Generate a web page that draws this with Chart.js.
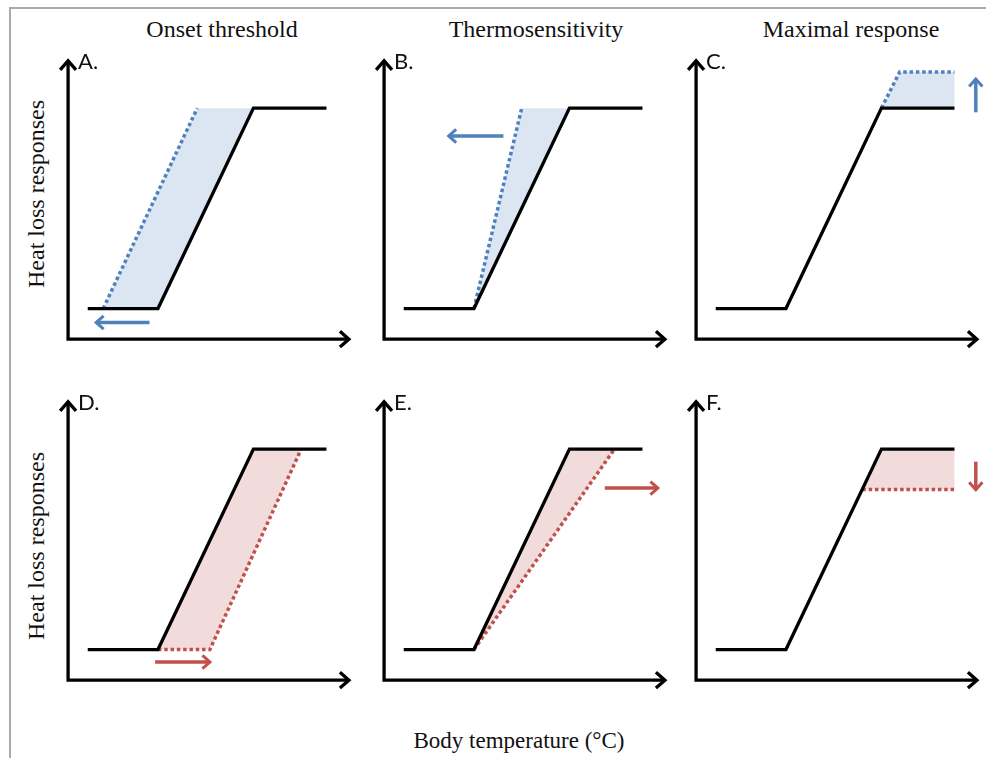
<!DOCTYPE html>
<html>
<head>
<meta charset="utf-8">
<script src="https://cdn.jsdelivr.net/npm/chart.js@4.4.1/dist/chart.umd.min.js"></script>
<style>
  body { margin: 0; background: #fff; width: 986px; height: 758px; position: relative; overflow: hidden; }
  #frame { position: absolute; left: 9px; top: 7px; right: -5px; bottom: -5px; border-top: 2px solid #aaa; border-left: 2px solid #aaa; }
  canvas { position: absolute; }
  .t { position: absolute; font-family: "Liberation Serif", "Times New Roman", serif; color: #111; white-space: nowrap; transform: translate(-50%, -50%); }
  .v { transform: translate(-50%, -50%) rotate(-90deg); }
</style>
</head>
<body>
<div id="frame"></div>
<div class="t" style="left:222px;top:29px;font-size:24px">Onset threshold</div>
<div class="t" style="left:536px;top:29px;font-size:24px">Thermosensitivity</div>
<div class="t" style="left:851px;top:29px;font-size:24px">Maximal response</div>
<div class="t v" style="left:36px;top:194px;font-size:24px">Heat loss responses</div>
<div class="t v" style="left:36px;top:546px;font-size:24px">Heat loss responses</div>
<div class="t" style="left:519px;top:741px;font-size:23px">Body temperature (°C)</div>

<script>
// curva de referencia (preta), igual em todos os paineis
const baseX = [7, 32, 66, 92];
const baseY = [11, 11, 83, 83];

const letras = ["A.", "B.", "C.", "D.", "E.", "F."];

// curvas deslocadas (pontilhadas)
const shiftX = [
  [12.5, 46],
  [32, 49],
  [66, 72.5, 92],
  [32, 50.5, 83],
  [32, 82],
  [59.2, 92]
];
const shiftY = [
  [11, 83],
  [11, 83],
  [83, 96, 96],
  [11, 11, 83],
  [11, 83],
  [68.5, 68.5]
];

// trecho da curva preta que fecha a area sombreada (indices inicio, fim)
const trechoBase = [[1, 2], [1, 2], [2, 3], [1, 2], [1, 2], [2, 3]];

// setas coloridas: x1, y1 -> x2, y2 (ponta)
const setaX1 = [29, 42.5, 99.6, 31, 78.6, 99.6];
const setaY1 = [6, 73, 81.5, 6.5, 69, 78.5];
const setaX2 = [10, 23, 99.6, 50.5, 97.5, 99.6];
const setaY2 = [6, 73, 93.5, 6.5, 69, 68.4];

const azul = { linha: "#4F81BD", area: "#DCE6F2" };
const vermelho = { linha: "#C0504D", area: "#F2DCDB" };

const origemX = [68, 384, 696];
const origemY = [339, 680];
const largura = 337, altura = 334;

function pontos(xs, ys) {
  return xs.map((x, i) => ({ x: x, y: ys[i] }));
}

function cabeca(ctx, x1, y1, x2, y2, tam) {
  const ang = Math.atan2(y2 - y1, x2 - x1);
  const a = Math.PI * 0.23;
  ctx.beginPath();
  ctx.moveTo(x2 - tam * Math.cos(ang - a), y2 - tam * Math.sin(ang - a));
  ctx.lineTo(x2, y2);
  ctx.lineTo(x2 - tam * Math.cos(ang + a), y2 - tam * Math.sin(ang + a));
  ctx.stroke();
}

const sombra = {
  id: "sombra",
  beforeDatasetsDraw(chart) {
    const meta = chart.getDatasetMeta(0);
    const ctx = chart.ctx;
    ctx.save();
    ctx.fillStyle = chart.data.datasets[0].corArea;
    ctx.beginPath();
    meta.data.forEach((p, i) => (i ? ctx.lineTo(p.x, p.y) : ctx.moveTo(p.x, p.y)));
    ctx.closePath();
    ctx.fill();
    ctx.restore();
  }
};

const enfeites = {
  id: "enfeites",
  afterDatasetsDraw(chart, args, opts) {
    const ctx = chart.ctx;
    const sx = chart.scales.x, sy = chart.scales.y;
    const x0 = sx.getPixelForValue(0), y0 = sy.getPixelForValue(0);
    const xf = sx.getPixelForValue(100), yf = sy.getPixelForValue(100);
    ctx.save();
    ctx.strokeStyle = "#000";
    ctx.lineWidth = 3.3;
    ctx.lineJoin = "miter";
    ctx.beginPath();
    ctx.moveTo(x0, yf);
    ctx.lineTo(x0, y0);
    ctx.lineTo(xf, y0);
    ctx.stroke();
    cabeca(ctx, x0, y0, xf, y0, 12);
    cabeca(ctx, x0, y0, x0, yf, 12);

    const i = opts.i;
    const ax1 = sx.getPixelForValue(setaX1[i]), ay1 = sy.getPixelForValue(setaY1[i]);
    const ax2 = sx.getPixelForValue(setaX2[i]), ay2 = sy.getPixelForValue(setaY2[i]);
    ctx.strokeStyle = opts.cor;
    ctx.lineWidth = 3.5;
    ctx.beginPath();
    ctx.moveTo(ax1, ay1);
    ctx.lineTo(ax2, ay2);
    ctx.stroke();
    ctx.lineWidth = 3;
    cabeca(ctx, ax1, ay1, ax2, ay2, 10);

    ctx.fillStyle = "#111";
    ctx.font = "22px Lato, 'Noto Sans', sans-serif";
    ctx.textBaseline = "alphabetic";
    ctx.fillText(letras[i], x0 + 10, yf + 8);
    ctx.restore();
  }
};

for (let i = 0; i < 6; i++) {
  const col = i % 3, lin = Math.floor(i / 3);
  const cores = lin === 0 ? azul : vermelho;
  const canvas = document.createElement("canvas");
  canvas.width = largura;
  canvas.height = altura;
  canvas.style.left = (origemX[col] - largura * 10 / 120) + "px";
  canvas.style.top = (origemY[lin] - altura * 110 / 120) + "px";
  document.body.appendChild(canvas);

  const [ini, fim] = trechoBase[i];
  const bx = baseX.slice(ini, fim + 1).reverse();
  const by = baseY.slice(ini, fim + 1).reverse();
  const areaX = shiftX[i].concat(bx);
  const areaY = shiftY[i].concat(by);

  new Chart(canvas, {
    type: "line",
    data: {
      datasets: [
        {
          data: pontos(areaX, areaY),
          corArea: cores.area,
          showLine: false,
          pointRadius: 0,
          order: 2
        },
        {
          data: pontos(shiftX[i], shiftY[i]),
          borderColor: cores.linha,
          borderWidth: 3.5,
          borderDash: [3.5, 2.8],
          borderCapStyle: "butt",
          pointRadius: 0,
          fill: false,
          order: 1
        },
        {
          data: pontos(baseX, baseY),
          borderColor: "#000",
          borderWidth: 3.3,
          borderJoinStyle: "miter",
          pointRadius: 0,
          fill: false,
          order: 0
        }
      ]
    },
    options: {
      responsive: false,
      animation: false,
      events: [],
      layout: { padding: 0 },
      plugins: {
        legend: { display: false },
        tooltip: { enabled: false },
        enfeites: { i: i, cor: cores.linha }
      },
      scales: {
        x: { type: "linear", min: -10, max: 110, display: false },
        y: { type: "linear", min: -10, max: 110, display: false }
      }
    },
    plugins: [sombra, enfeites]
  });
}
</script>
</body>
</html>
